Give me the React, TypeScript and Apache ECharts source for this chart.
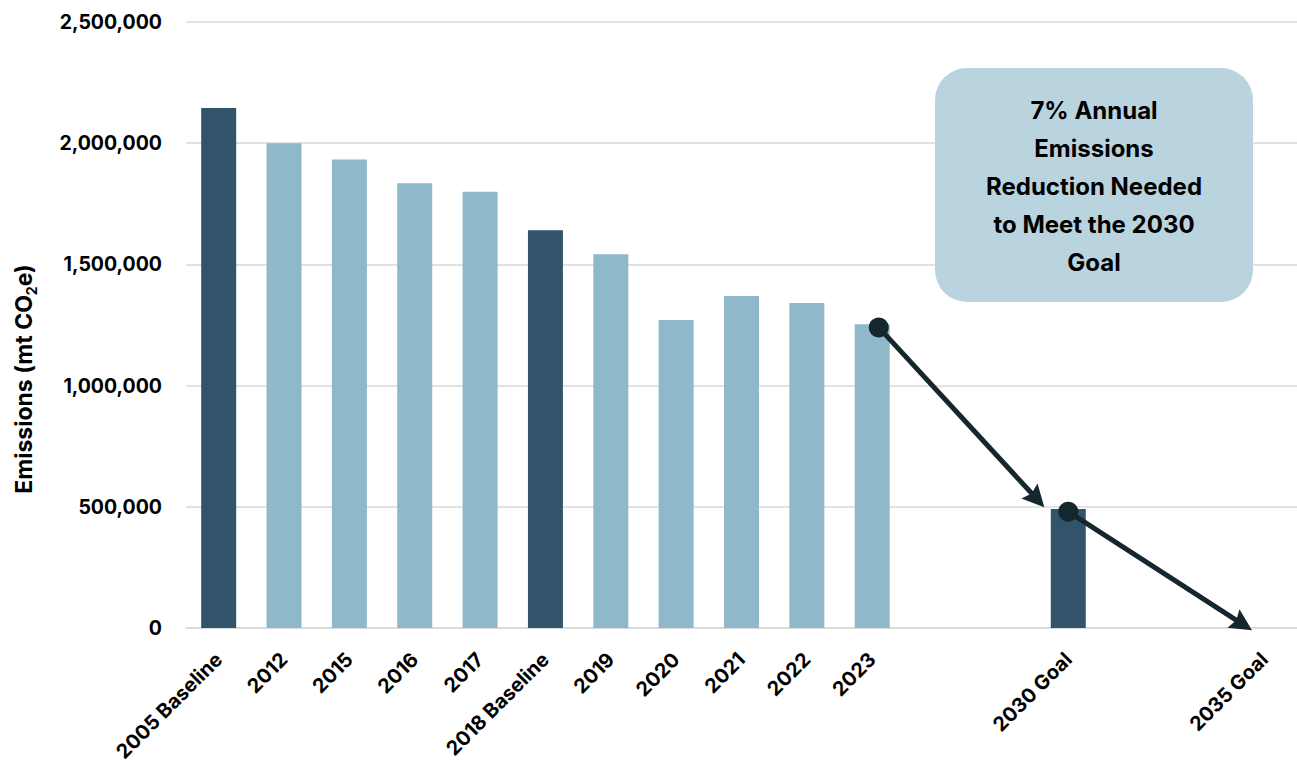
import React, { useEffect, useRef } from "react";
import * as echarts from "echarts";

const categories = [
  "2005 Baseline", "2012", "2015", "2016", "2017", "2018 Baseline", "2019",
  "2020", "2021", "2022", "2023", " ", "  ", "2030 Goal", "   ", "    ", "2035 Goal",
];
const emissions: (number | null)[] = [
  2145000, 2000000, 1933000, 1835000, 1800000, 1641000, 1542000,
  1271000, 1370000, 1341000, 1253000, null, null, 491000, null, null, null,
];
const highlighted = ["2005 Baseline", "2018 Baseline", "2030 Goal"];
const yTicks = { min: 0, max: 2500000, interval: 500000 };

// trajectory arrows: [x position in category units, value]
const arrow1: [number, number][] = [[10.1, 1240000], [12.52, 532000]];
const arrow2: [number, number][] = [[13.0, 480000], [15.67, 15000]];

const annotationLines = ["7% Annual", "Emissions", "Reduction Needed", "to Meet the 2030", "Goal"];

const FONT = "Inter, 'Noto Sans', sans-serif";

export default function App() {
  const ref = useRef<HTMLDivElement>(null);
  useEffect(() => {
    const chart = echarts.init(ref.current!, null, { renderer: "svg" });
    chart.setOption({
      animation: false,
      backgroundColor: "#ffffff",
      textStyle: { fontFamily: FONT },
      grid: { left: 186, right: 0, top: 22, bottom: 140, containLabel: false, outerBoundsMode: "none" },
      xAxis: [
        {
          type: "category",
          data: categories,
          axisTick: { show: false },
          axisLine: { lineStyle: { color: "#D9D9D9", width: 1.5 } },
          axisLabel: {
            rotate: 45,
            interval: 0,
            margin: 28,
            color: "#000",
            fontWeight: "bold",
            fontSize: 20,
            fontFamily: FONT,
          },
        },
        { type: "value", min: -0.5, max: 16.5, show: false },
      ],
      yAxis: {
        type: "value",
        min: yTicks.min,
        max: yTicks.max,
        interval: yTicks.interval,
        axisLine: { show: false },
        axisTick: { show: false },
        axisLabel: {
          margin: 24,
          color: "#000",
          fontWeight: "bold",
          fontSize: 19.5,
          fontFamily: FONT,
          formatter: (v: number) => v.toLocaleString("en-US"),
        },
        splitLine: { lineStyle: { color: "#D9D9D9", width: 1.5 } },
      },
      series: [
        {
          type: "bar",
          data: emissions,
          barWidth: 35,
          itemStyle: {
            color: (p: any) => (highlighted.includes(categories[p.dataIndex]) ? "#31546A" : "#8FB8CA"),
          },
        },
        {
          type: "lines",
          coordinateSystem: "cartesian2d",
          xAxisIndex: 1,
          yAxisIndex: 0,
          symbol: ["circle", "path://M10,0 L20,20 L10,17 L0,20 Z"],
          symbolSize: [20, 22],
          clip: false,
          z: 5,
          lineStyle: { color: "#15262F", width: 5, opacity: 1, curveness: 0 },
          data: [{ coords: arrow1 }, { coords: arrow2 }],
        },
      ],
      graphic: [
        {
          type: "text",
          x: 24,
          y: 379,
          rotation: Math.PI / 2,
          z: 100,
          style: {
            text: "{a|Emissions (mt CO}{b|2}{a|e)}",
            align: "center",
            verticalAlign: "middle",
            rich: {
              a: { fontFamily: FONT, fontWeight: "bold", fontSize: 23, fill: "#000", lineHeight: 28 },
              b: { fontFamily: FONT, fontWeight: "bold", fontSize: 14, fill: "#000", lineHeight: 28, verticalAlign: "bottom", padding: [9, 0, 0, 0] },
            },
          },
        },
        {
          type: "group",
          left: 935,
          top: 68,
          z: 100,
          children: [
            {
              type: "rect",
              z: 100,
              shape: { x: 0, y: 0, width: 318, height: 234, r: 32 },
              style: { fill: "#B9D4DF" },
            },
            {
              type: "text",
              z: 101,
              x: 159,
              y: 118,
              style: {
                text: annotationLines.join("\n"),
                align: "center",
                verticalAlign: "middle",
                fontFamily: FONT,
                fontWeight: "bold",
                fontSize: 24,
                lineHeight: 38,
                fill: "#000",
              },
            },
          ],
        },
      ],
    });
    return () => chart.dispose();
  }, []);
  return <div ref={ref} style={{ position: "absolute", left: 0, top: 0, width: 1297, height: 768 }} />;
}
